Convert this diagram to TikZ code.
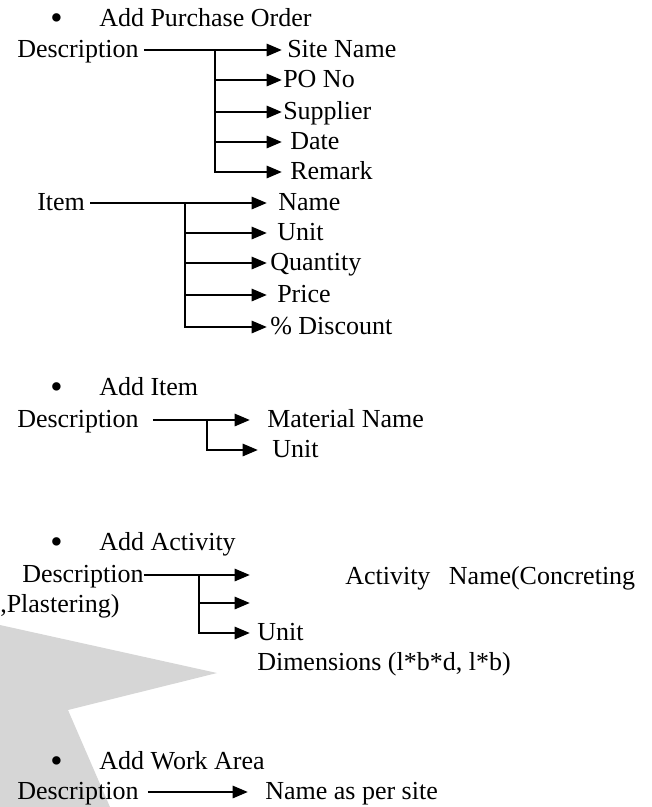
\documentclass[tikz,border=0pt]{standalone}
\usepackage{fontspec}
\setmainfont{Liberation Serif}
\usetikzlibrary{arrows.meta,positioning}
\definecolor{wmgray}{RGB}{214,214,214}
\newcommand{\bigdot}{\makebox[36.75pt][l]{\raisebox{-0.12em}{\scalebox{1.35}{\textbullet}}}}

\begin{document}
\begin{tikzpicture}[x=0.75pt,y=-0.75pt]
% Define node styles
\tikzstyle{txt} = [anchor=west, inner sep=0pt, text height=14.6pt, text depth=3pt, font=\fontsize{19.5pt}{23pt}\selectfont]
\tikzstyle{head} = [txt]
\tikzstyle{edge} = [line width=2.1pt, -{Triangle[length=11.5pt,width=9pt]}]

\useasboundingbox (0,0) rectangle (651,807);

% Background shape
\fill[wmgray] (0,625) -- (217,673) -- (68,710) -- (110,807) -- (0,807) -- cycle;

% Add Purchase Order
\node[head] (hpo) at (50,19) {\bigdot Add Purchase Order};
\node[txt, inner xsep=3.75pt] (desc1) at (12,50) {Description};
\node[txt, inner xsep=3.75pt] (site) at (282,50) {Site Name};
\node[txt, inner xsep=0.75pt] (pono) at (282,80) {PO No};
\node[txt, inner xsep=0.75pt] (supp) at (282,112) {Supplier};
\node[txt, inner xsep=6pt] (date) at (282,142) {Date};
\node[txt, inner xsep=6pt] (remark) at (282,172) {Remark};
\coordinate (b1) at (215,50);

\draw[edge] (desc1.east) -- (site.west);
\draw[edge] (b1) |- (pono.west);
\draw[edge] (b1) |- (supp.west);
\draw[edge] (b1) |- (date.west);
\draw[edge] (b1) |- (remark.west);

% Item
\node[txt, inner xsep=3.75pt] (item) at (32,203) {Item};
\node[txt, inner xsep=8.25pt] (name) at (267,203) {Name};
\node[txt, inner xsep=7.5pt] (unit1) at (267,233) {Unit};
\node[txt, inner xsep=2.25pt] (qty) at (267,263) {Quantity};
\node[txt, inner xsep=7.5pt] (price) at (267,295) {Price};
\node[txt, inner xsep=2.25pt] (disc) at (267,327) {\% Discount};
\coordinate (b2) at (185,203);

\draw[edge] (item.east) -- (name.west);
\draw[edge] (b2) |- (unit1.west);
\draw[edge] (b2) |- (qty.west);
\draw[edge] (b2) |- (price.west);
\draw[edge] (b2) |- (disc.west);

% Add Item
\node[head] (hitem) at (50,388) {\bigdot Add Item};
\node[txt, inner xsep=10.5pt] (desc3) at (3,420) {Description};
\node[txt, inner xsep=12.75pt] (mat) at (250,420) {Material Name};
\node[txt, inner xsep=10.5pt] (unit2) at (258,450) {Unit};
\coordinate (b3) at (207,420);

\draw[edge] (desc3.east) -- (mat.west);
\draw[edge] (b3) |- (unit2.west);

% Add Activity
\node[head] (hact) at (50,543) {\bigdot Add Activity};
\node[txt] (desc4) at (22,575) {Description};
\node[txt] (act) at (345,577) {Activity\hspace{0.71em}Name(Concreting};
\node[txt] (plast) at (0,605) {,Plastering)};
\node[txt, inner xsep=5.25pt] (unit3) at (250,633) {Unit};
\node[txt] (dim) at (257,663) {Dimensions (l*b*d, l*b)};
\coordinate (b4) at (199,575);
\coordinate (t4a) at (250,575);
\coordinate (t4b) at (250,603);

\draw[edge] (desc4.east) -- (t4a);
\draw[edge] (b4) |- (t4b);
\draw[edge] (b4) |- (unit3.west);

% Add Work Area
\node[head] (hwork) at (50,762) {\bigdot Add Work Area};
\node[txt, inner xsep=6.75pt] (desc5) at (8,792) {Description};
\node[txt, inner xsep=12.75pt] (area) at (248,792) {Name as per site};

\draw[edge] (desc5.east) -- (area.west);
\end{tikzpicture}
\end{document}
